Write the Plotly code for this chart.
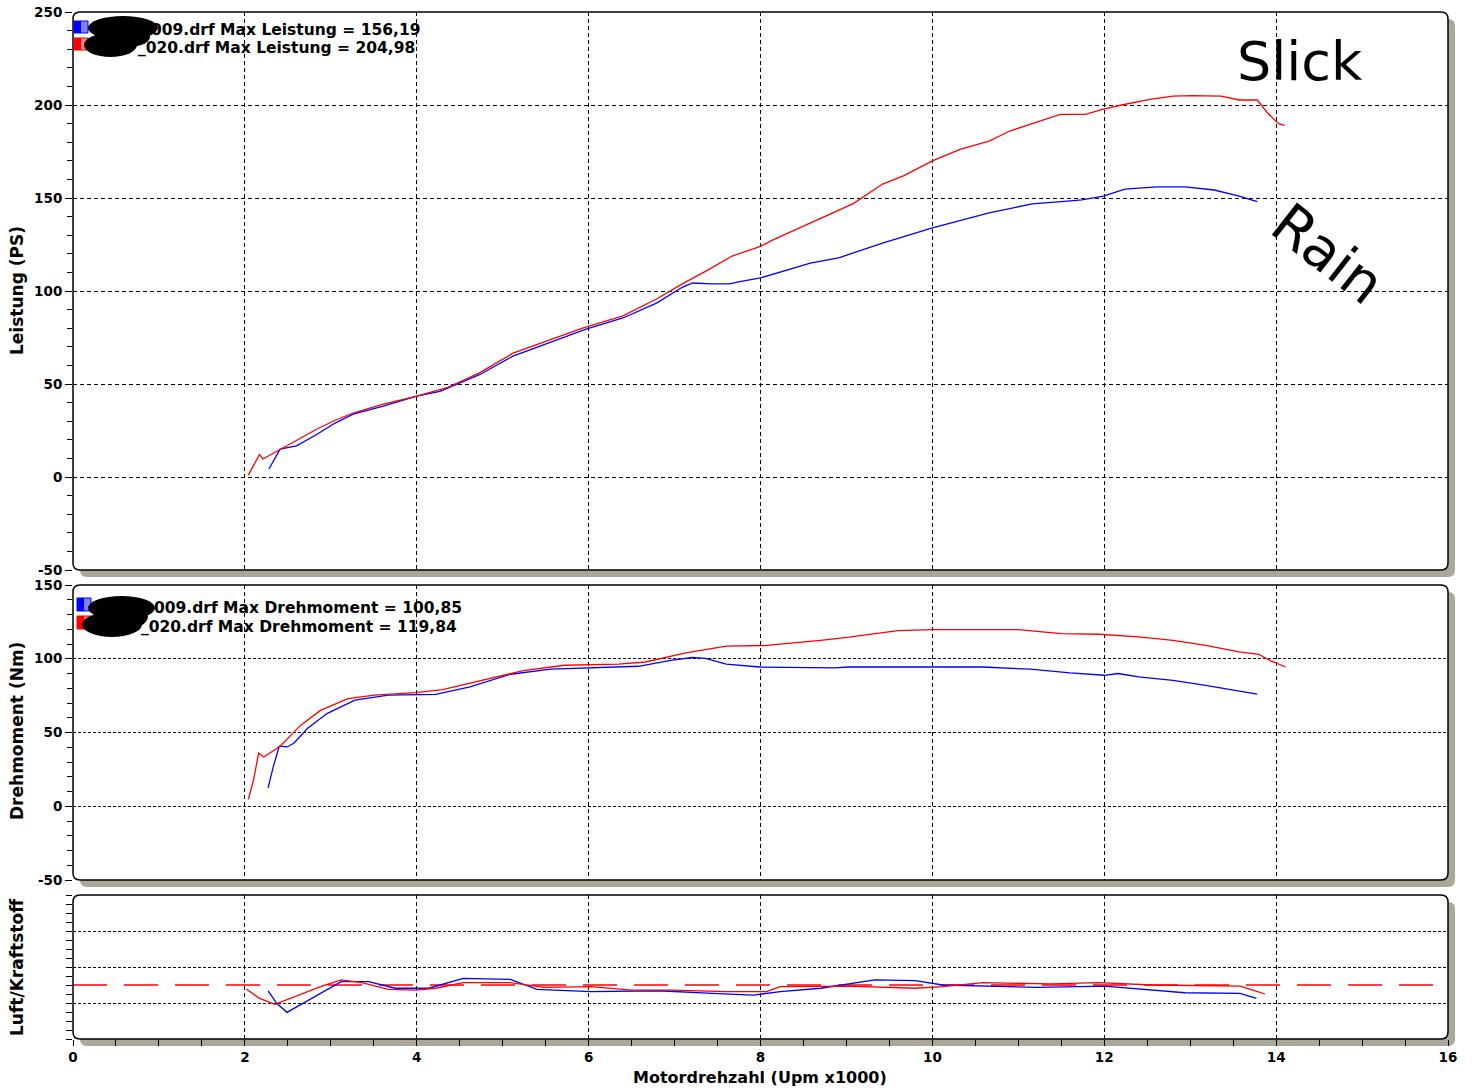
import plotly.graph_objects as go

# ---------------- data ----------------
rpm_power_slick = [2.04, 2.1, 2.17, 2.21, 2.3, 2.44, 2.6, 2.84, 3.05, 3.26, 3.6, 4.0, 4.35, 4.73, 5.12, 5.51,
                   5.93, 6.4, 6.79, 7.09, 7.37, 7.67, 8.0, 8.17, 8.58, 8.84, 9.08, 9.42, 9.67, 10.0, 10.33,
                   10.66, 10.9, 11.16, 11.49, 11.78, 11.99, 12.2, 12.53, 12.8, 13.03, 13.36, 13.57, 13.78,
                   13.9, 14.03, 14.1]
power_slick = [1, 6, 12, 9.7, 12, 15.6, 19.5, 25.8, 30.5, 34.4, 39, 43.5, 48, 56, 66.6, 73,
               80, 86.6, 95.7, 103.8, 110.8, 118.8, 124, 128, 136.6, 142, 147, 157.5, 162, 170, 176.3,
               180.6, 186, 190, 195, 195, 197.8, 200, 203, 204.8, 205.0, 204.8, 202.7, 202.7,
               195.7, 190, 189]

rpm_power_rain = [2.28, 2.35, 2.41, 2.6, 2.84, 3.05, 3.26, 3.6, 4.0, 4.27, 4.73, 5.12, 5.51, 5.97, 6.4,
                  6.79, 7.09, 7.21, 7.44, 7.64, 7.76, 8.0, 8.58, 8.92, 9.42, 10.0, 10.66, 11.16, 11.5,
                  11.74, 11.99, 12.24, 12.61, 12.94, 13.28, 13.57, 13.78]
power_rain = [4.3, 10, 15, 16.7, 23, 29, 33.8, 38, 43.5, 46, 55, 65, 71.5, 79.5, 85.5,
              93.5, 102, 104.3, 103.8, 103.8, 105, 107, 115, 118, 125.8, 134, 142, 146.8, 148,
              149, 151, 154.8, 156, 156, 154.3, 151, 148]

rpm_torque_slick = [2.04, 2.1, 2.16, 2.22, 2.41, 2.65, 2.88, 3.2, 3.51, 3.99, 4.3, 4.77, 5.24, 5.72, 6.35,
                    6.66, 7.13, 7.6, 8.07, 8.7, 9.03, 9.6, 10.0, 11.0, 11.5, 11.94, 12.4, 12.8, 13.18,
                    13.57, 13.8, 13.92, 14.11]
torque_slick = [4.7, 17.6, 36, 33.4, 40.7, 55, 65, 73, 75.3, 77, 79, 85.4, 92, 95.6, 96.3,
                97.8, 104, 108.5, 109, 112.5, 114.6, 119, 119.8, 119.8, 117, 116.6, 114.8, 112.5, 109,
                104.6, 103, 99, 94.4]

rpm_torque_rain = [2.27, 2.33, 2.4, 2.49, 2.57, 2.73, 2.96, 3.28, 3.67, 4.22, 4.62, 5.09, 5.56, 6.19,
                   6.58, 6.97, 7.21, 7.36, 7.6, 7.99, 8.86, 9.02, 10.59, 11.14, 11.6, 12.0, 12.16,
                   12.4, 12.8, 13.18, 13.57, 13.78]
torque_rain = [12.4, 26.7, 40.7, 40.2, 42.7, 52.9, 63, 71.9, 75.3, 75.9, 80.9, 89.5, 92.9, 94.4,
               94.9, 99, 100.85, 100.3, 96.3, 94.4, 93.8, 94.4, 94.4, 92.9, 90.4, 88.8, 90,
               87.7, 85.4, 82, 78.2, 76]

rpm_afr_slick = [2.02, 2.17, 2.35, 2.57, 2.88, 3.12, 3.36, 3.67, 3.99, 4.22, 4.54, 5.09, 5.48, 6.03,
                 6.5, 6.97, 7.6, 8.07, 8.23, 9.02, 9.8, 10.12, 10.59, 11.38, 11.93, 12.56, 13.58,
                 13.73, 13.87]
afr_slick = [12.76, 12.26, 11.93, 12.35, 12.91, 13.28, 13.13, 12.76, 12.72, 12.82, 13.13, 13.13, 12.87,
             12.91, 12.72, 12.72, 12.63, 12.63, 12.91, 12.94, 12.82, 12.91, 13.13, 13.06, 13.13, 13.0,
             12.94, 12.72, 12.5]

rpm_afr_rain = [2.27, 2.37, 2.49, 2.81, 3.12, 3.44, 3.75, 4.14, 4.54, 5.09, 5.4, 6.03, 6.81, 7.44,
                7.92, 8.23, 8.7, 9.33, 9.8, 10.12, 11.22, 12.0, 12.32, 12.94, 13.58, 13.77]
afr_rain = [12.68, 11.98, 11.48, 12.35, 13.19, 13.19, 12.82, 12.82, 13.37, 13.31, 12.76, 12.63, 12.68,
            12.54, 12.44, 12.63, 12.82, 13.28, 13.24, 13.0, 12.87, 12.94, 12.82, 12.57, 12.54, 12.26]

afr_target = 13.0
x_range = [0, 16]

power_ticks = [-50, 0, 50, 100, 150, 200, 250]
power_tick_labels = ["-50", "0", "50", "100", "150", "200", "250"]
torque_ticks = [-50, 0, 50, 100, 150]
torque_tick_labels = ["-50", "0", "50", "100", "150"]

legend_power = ["009.drf Max Leistung = 156,19", "_020.drf Max Leistung = 204,98"]
legend_torque = ["009.drf Max Drehmoment = 100,85", "_020.drf Max Drehmoment = 119,84"]

RED = "#ff0000"
BLUE = "#0000ff"
SHADOW = "#aca899"
FONT = "DejaVu Sans"

# ---------------- geometry helpers (pixel -> paper) ----------------
W, H = 1472, 1090
L, R, T, B = 73, 1448, 12, 1039


def X(px):
    return (px - L) / (R - L)


def Y(py):
    return (B - py) / (B - T)


def rrect_path(x0, y0, x1, y1, r=6):
    def p(a, b):
        return f"{X(a):.5f},{Y(b):.5f}"
    return (f"M {p(x0 + r, y0)} L {p(x1 - r, y0)} Q {p(x1, y0)} {p(x1, y0 + r)} "
            f"L {p(x1, y1 - r)} Q {p(x1, y1)} {p(x1 - r, y1)} L {p(x0 + r, y1)} "
            f"Q {p(x0, y1)} {p(x0, y1 - r)} L {p(x0, y0 + r)} Q {p(x0, y0)} {p(x0 + r, y0)} Z")


panels = [(73, 12, 1448, 570), (73, 585, 1448, 880), (73, 895, 1448, 1039)]

fig = go.Figure()

line_w = 1.3
fig.add_trace(go.Scatter(x=rpm_power_rain, y=power_rain, mode="lines",
                         line=dict(color=BLUE, width=line_w), xaxis="x", yaxis="y"))
fig.add_trace(go.Scatter(x=rpm_power_slick, y=power_slick, mode="lines",
                         line=dict(color=RED, width=line_w), xaxis="x", yaxis="y"))
fig.add_trace(go.Scatter(x=rpm_torque_rain, y=torque_rain, mode="lines",
                         line=dict(color=BLUE, width=line_w), xaxis="x2", yaxis="y2"))
fig.add_trace(go.Scatter(x=rpm_torque_slick, y=torque_slick, mode="lines",
                         line=dict(color=RED, width=line_w), xaxis="x2", yaxis="y2"))
fig.add_trace(go.Scatter(x=x_range, y=[afr_target, afr_target], mode="lines",
                         line=dict(color=RED, width=1.4, dash="34px,17px"), xaxis="x3", yaxis="y3"))
fig.add_trace(go.Scatter(x=rpm_afr_rain, y=afr_rain, mode="lines",
                         line=dict(color=BLUE, width=line_w), xaxis="x3", yaxis="y3"))
fig.add_trace(go.Scatter(x=rpm_afr_slick, y=afr_slick, mode="lines",
                         line=dict(color=RED, width=line_w), xaxis="x3", yaxis="y3"))

tickfont = dict(family=FONT, size=13.5, color="black", weight="bold")
grid_common = dict(showgrid=True, gridcolor="black", gridwidth=1, zeroline=False, showline=False,
                   automargin=False)

xcommon = dict(range=x_range, dtick=2, tick0=0, griddash="4px,3px", **grid_common)
fig.update_layout(
    xaxis=dict(anchor="y", showticklabels=False, ticks="", **xcommon),
    xaxis2=dict(anchor="y2", matches="x", showticklabels=False, ticks="", **xcommon),
    xaxis3=dict(anchor="y3", matches="x", showticklabels=True, ticks="outside", ticklen=6,
                tickcolor="black", tickfont=tickfont,
                minor=dict(dtick=0.5, ticks="outside", ticklen=6, tickcolor="black", showgrid=False),
                **xcommon),
    yaxis=dict(domain=[Y(570), 1], anchor="x", range=[-50, 250],
               tickmode="array", tickvals=power_ticks, ticktext=power_tick_labels,
               ticks="outside", ticklen=7, tickcolor="black", tickfont=tickfont,
               griddash="4px,3px",
               minor=dict(dtick=10, tick0=0, ticks="outside", ticklen=5, tickcolor="black",
                          showgrid=False),
               **grid_common),
    yaxis2=dict(domain=[Y(880), Y(585)], anchor="x2", range=[-50, 150],
                tickmode="array", tickvals=torque_ticks, ticktext=torque_tick_labels,
                ticks="outside", ticklen=7, tickcolor="black", tickfont=tickfont,
                griddash="3px,2px",
                minor=dict(dtick=10, tick0=0, ticks="outside", ticklen=5, tickcolor="black",
                           showgrid=False),
                **grid_common),
    yaxis3=dict(domain=[0, Y(895)], anchor="x3", range=[10, 18], dtick=2, tick0=0,
                showticklabels=False, ticks="outside", ticklen=6, tickcolor="black",
                griddash="3px,2px",
                minor=dict(dtick=0.5, ticks="outside", ticklen=6, tickcolor="black", showgrid=False),
                **grid_common),
)

shapes = []
for (x0, y0, x1, y1) in panels:
    shapes.append(dict(type="path", xref="paper", yref="paper", layer="below",
                       path=rrect_path(x0 + 7, y0 + 7, x1 + 7, y1 + 7, 7),
                       fillcolor=SHADOW, line=dict(width=0)))
    shapes.append(dict(type="path", xref="paper", yref="paper", layer="below",
                       path=rrect_path(x0, y0, x1, y1, 7),
                       fillcolor="white", line=dict(width=0)))
    shapes.append(dict(type="path", xref="paper", yref="paper", layer="above",
                       path=rrect_path(x0, y0, x1, y1, 7),
                       line=dict(color="black", width=1.5)))


def box(x0, y0, x1, y1, color, lw=0, lc="black"):
    return dict(type="rect", xref="paper", yref="paper", layer="above",
                x0=X(x0), x1=X(x1), y0=Y(y1), y1=Y(y0), fillcolor=color,
                line=dict(width=lw, color=lc))


def blob(x0, y0, x1, y1):
    return dict(type="circle", xref="paper", yref="paper", layer="above",
                x0=X(x0), x1=X(x1), y0=Y(y1), y1=Y(y0), fillcolor="black",
                line=dict(width=0))


# legend swatches
for (y0, dark, light) in [(21, BLUE, "#8080ff"), (38, RED, "#ff8080")]:
    shapes.append(box(74, y0, 88, y0 + 12, light, 1, dark))
    shapes.append(box(74, y0, 81, y0 + 12, dark))
for (y0, dark, light) in [(598, BLUE, "#8080ff"), (616, RED, "#ff8080")]:
    shapes.append(box(77, y0, 91, y0 + 13, light, 1, dark))
    shapes.append(box(77, y0, 84, y0 + 13, dark))

# redaction scribbles
shapes += [blob(88, 16, 158, 40), blob(84, 33, 137, 57), blob(95, 26, 150, 48),
           blob(88, 596, 155, 620), blob(82, 612, 142, 637), blob(95, 603, 148, 630)]

fig.update_layout(shapes=shapes)

ann = []
lf = dict(family=FONT, size=15.5, color="black", weight="bold")
ann.append(dict(x=X(149), y=Y(30), text=legend_power[0]))
ann.append(dict(x=X(136), y=Y(48), text=legend_power[1]))
ann.append(dict(x=X(152), y=Y(608), text=legend_torque[0]))
ann.append(dict(x=X(139), y=Y(627), text=legend_torque[1]))
for a in ann:
    a.update(xref="paper", yref="paper", xanchor="left", yanchor="middle", showarrow=False, font=lf)

tf = dict(family=FONT, size=17, color="black", weight="bold")
ann.append(dict(x=X(17), y=Y(290), text="Leistung (PS)", textangle=-90, font=tf))
ann.append(dict(x=X(17), y=Y(731), text="Drehmoment (Nm)", textangle=-90, font=tf))
ann.append(dict(x=X(17), y=Y(967), text="Luft/Kraftstoff", textangle=-90, font=tf))
ann.append(dict(x=X(760), y=Y(1077), text="Motordrehzahl (Upm x1000)",
                font=dict(family=FONT, size=16, color="black", weight="bold")))

ann.append(dict(x=X(1300), y=Y(62), text="Slick", font=dict(family=FONT, size=54, color="black")))
ann.append(dict(x=X(1328), y=Y(253), text="Rain", textangle=38,
                font=dict(family=FONT, size=56, color="black")))
for a in ann[4:]:
    a.update(xref="paper", yref="paper", showarrow=False, xanchor="center", yanchor="middle")

fig.update_layout(
    annotations=ann,
    width=W, height=H,
    margin=dict(l=L, r=W - R, t=T, b=H - B, autoexpand=False),
    paper_bgcolor="white", plot_bgcolor="rgba(0,0,0,0)",
    showlegend=False,
    font=dict(family=FONT, color="black"),
)

fig.write_html("out.html", config={"displayModeBar": False},
               post_script="document.body.style.margin='0px';document.body.style.overflow='hidden';")
